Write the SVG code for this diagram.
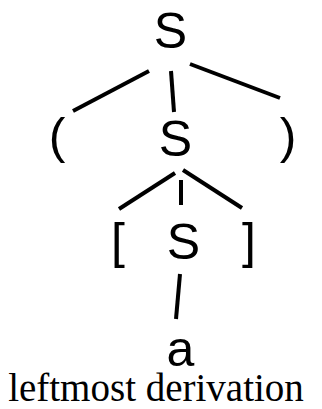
<svg xmlns="http://www.w3.org/2000/svg" width="322" height="409" viewBox="0 0 322 409">
<style>
.sym{font-family:"Liberation Sans",Arial,sans-serif;font-size:50px;fill:#000;text-anchor:middle}
.cap{font-family:"Liberation Serif","Times New Roman",serif;font-size:39px;fill:#000;text-anchor:middle}
.edge{stroke:#000;stroke-width:4;fill:none}
</style>
<rect width="322" height="409" fill="#fff"/>
<g id="edges">
<line class="edge" x1="149" y1="71" x2="73" y2="111"/>
<line class="edge" x1="171" y1="71" x2="174" y2="112"/>
<line class="edge" x1="190" y1="64" x2="280" y2="98"/>
<line class="edge" x1="175" y1="173" x2="119" y2="209"/>
<line class="edge" x1="181" y1="180" x2="181" y2="205"/>
<line class="edge" x1="183" y1="170" x2="242" y2="208"/>
<line class="edge" x1="180" y1="274" x2="176" y2="319"/>
</g>
<g id="n-S1"><text class="sym" x="170.5" y="48">S</text></g>
<g id="n-lparen"><text class="sym" x="57" y="153">(</text></g>
<g id="n-S2"><text class="sym" x="175.5" y="156">S</text></g>
<g id="n-rparen"><text class="sym" x="288" y="153">)</text></g>
<g id="n-lbrack"><text class="sym" x="118" y="258">[</text></g>
<g id="n-S3"><text class="sym" x="183.5" y="259">S</text></g>
<g id="n-rbrack"><text class="sym" x="249" y="258">]</text></g>
<g id="n-a"><text class="sym" x="180.5" y="366">a</text></g>
<g id="caption"><text class="cap" x="156" y="401">leftmost derivation</text></g>
</svg>
